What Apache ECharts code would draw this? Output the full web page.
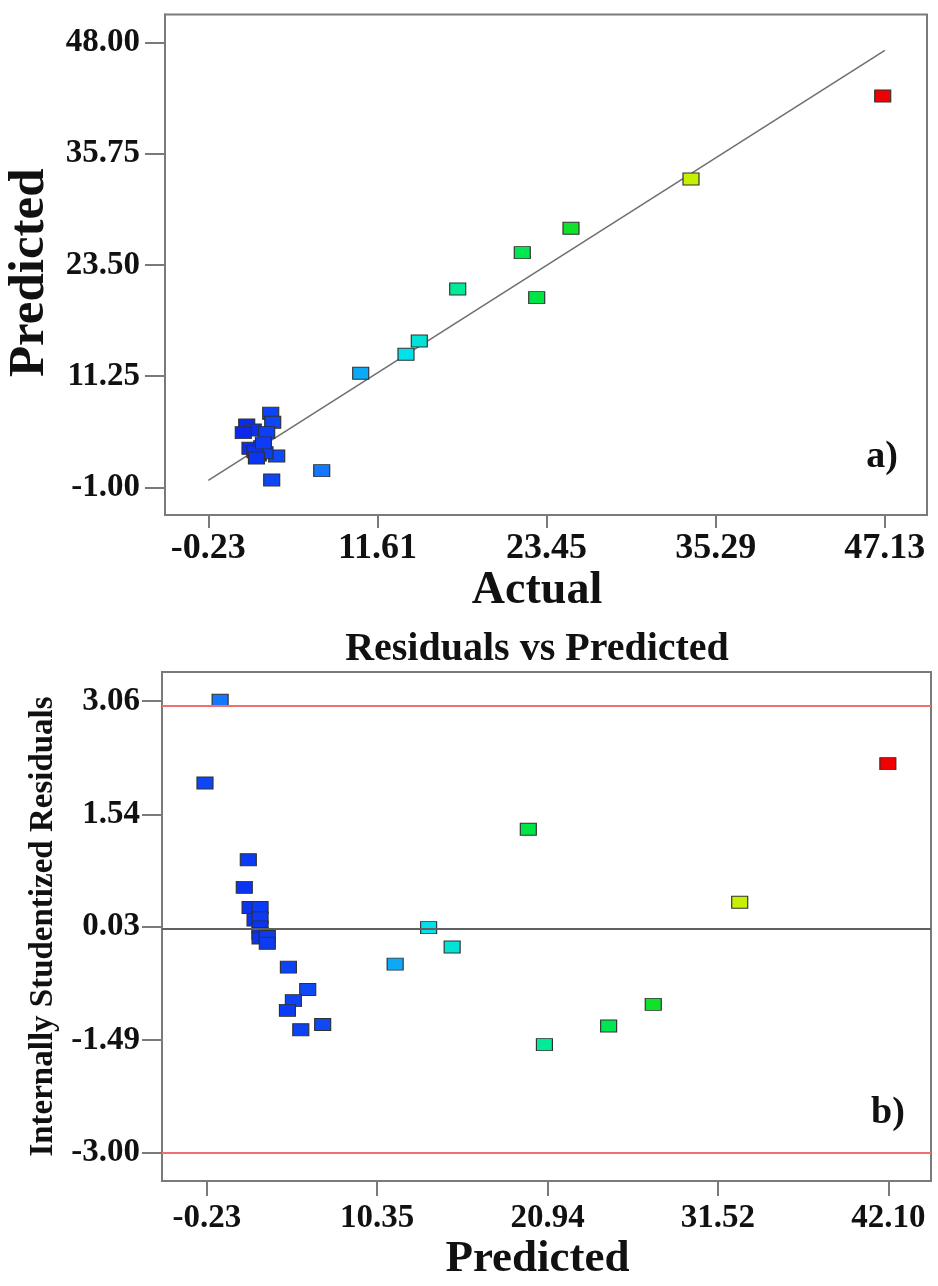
<!DOCTYPE html>
<html>
<head>
<meta charset="utf-8">
<script src="https://cdn.jsdelivr.net/npm/echarts@6/dist/echarts.min.js"></script>
<style>
html,body{margin:0;padding:0;background:#fff;}
#chart{width:938px;height:1286px;}
</style>
</head>
<body>
<div id="chart"></div>
<script>
// ---- Data ----
const actualTicks = [-0.23, 11.61, 23.45, 35.29, 47.13];
const predictedTicksA = [-1.00, 11.25, 23.50, 35.75, 48.00];
const predictedTicksB = [-0.23, 10.35, 20.94, 31.52, 42.10];
const residualTicks = [-3.00, -1.49, 0.03, 1.54, 3.06];

// Panel a: Actual vs Predicted
const actualA = [46.98, 33.56, 25.16, 21.75, 22.76, 17.23, 14.54, 13.61, 10.44, 7.71, 4.21, 4.14, 4.28, 2.46, 2.92, 2.22, 3.86, 2.69, 3.51, 3.27, 4.56, 3.74, 3.04, 3.14, 3.63];
const predictedA = [42.11, 32.97, 27.54, 24.86, 19.90, 20.86, 15.13, 13.67, 11.58, 0.85, -0.17, 7.17, 6.18, 5.88, 5.33, 5.04, 5.04, 3.32, 3.49, 2.58, 2.47, 2.83, 2.94, 2.25, 3.91];

// Panel b: Residuals vs Predicted (actualB used for colour)
const predictedB = [0.60, -0.34, 2.35, 2.10, 2.46, 3.08, 2.77, 3.08, 3.08, 3.08, 3.08, 3.53, 3.53, 4.84, 6.04, 5.15, 4.78, 5.61, 6.97, 19.74, 32.87, 13.55, 15.01, 11.47, 27.50, 24.73, 20.74, 42.07];
const residualB = [3.07, 1.96, 0.93, 0.56, 0.29, 0.29, 0.12, 0.15, 0.03, -0.06, -0.12, -0.10, -0.19, -0.51, -0.81, -0.96, -1.09, -1.35, -1.28, 1.34, 0.36, 0.02, -0.24, -0.47, -1.01, -1.30, -1.55, 2.22];
const actualB = [7.71, 4.21, 3.5, 3.0, 3.0, 3.5, 3.0, 3.5, 3.0, 3.0, 3.0, 3.5, 3.5, 4.0, 4.5, 4.0, 3.5, 4.0, 4.5, 22.76, 33.56, 13.61, 14.54, 10.44, 25.16, 21.75, 17.23, 46.98];
const residualLimits = [3.00, -3.00];
const residualZero = 0;

// ---- Build ----
const FONT = "'Liberation Serif', 'Times New Roman', serif";
const frameColor = '#7a7a7a';
const rainbow = ['#0a28f0', '#1478ff', '#00e0f0', '#00f070', '#00e030', '#90f000', '#e8f000', '#f87000', '#f00000'];

const dataA = actualA.map((v, i) => [v, predictedA[i]]);
const dataB = predictedB.map((v, i) => [v, residualB[i], actualB[i]]);
const fmt = v => Number(v).toFixed(2);

function axisCommon(ticks, tickLen, labelSize, margin) {
  return {
    axisLine: { show: true, onZero: false, lineStyle: { color: frameColor, width: 2 } },
    axisTick: { show: true, customValues: ticks, length: tickLen, lineStyle: { color: frameColor, width: 2 } },
    axisLabel: { customValues: ticks, formatter: fmt, margin: margin,
      fontFamily: FONT, fontWeight: 'bold', fontSize: labelSize, color: '#111' },
    splitLine: { show: false }
  };
}

const chart = echarts.init(document.getElementById('chart'), null, { renderer: 'canvas' });
chart.setOption({
  animation: false,
  backgroundColor: '#fff',
  title: [
    { text: 'Residuals vs Predicted', left: 532, top: 625, textAlign: 'center',
      textStyle: { fontFamily: FONT, fontWeight: 'bold', fontSize: 40, color: '#111' } },
    { text: 'a)', left: 877, top: 433, textAlign: 'center',
      textStyle: { fontFamily: FONT, fontWeight: 'bold', fontSize: 38, color: '#111' } },
    { text: 'b)', left: 883, top: 1089, textAlign: 'center',
      textStyle: { fontFamily: FONT, fontWeight: 'bold', fontSize: 38, color: '#111' } }
  ],
  grid: [
    { left: 165, top: 14.5, width: 762, height: 500.5, show: true, borderColor: frameColor, borderWidth: 2,
      containLabel: false, outerBoundsMode: 'none' },
    { left: 162, top: 672, width: 769, height: 509, show: true, borderColor: frameColor, borderWidth: 2,
      containLabel: false, outerBoundsMode: 'none' }
  ],
  xAxis: [
    Object.assign({ type: 'value', gridIndex: 0, min: -3.26, max: 50.08,
      name: 'Actual', nameLocation: 'middle', nameGap: 44,
      nameTextStyle: { fontFamily: FONT, fontWeight: 'bold', fontSize: 46, color: '#111', padding: [0, 18, 0, 0] } },
      axisCommon(actualTicks, 13, 36, 16)),
    Object.assign({ type: 'value', gridIndex: 1, min: -3.01, max: 44.75,
      name: 'Predicted', nameLocation: 'middle', nameGap: 56,
      nameTextStyle: { fontFamily: FONT, fontWeight: 'bold', fontSize: 45, color: '#111', padding: [0, 18, 0, 0] } },
      axisCommon(predictedTicksB, 15, 33, 21))
  ],
  yAxis: [
    Object.assign({ type: 'value', gridIndex: 0, min: -4.03, max: 51.08,
      name: 'Predicted', nameLocation: 'middle', nameGap: 106,
      nameTextStyle: { fontFamily: FONT, fontWeight: 'bold', fontSize: 51, color: '#111', padding: [0, 16, 0, 0] } },
      axisCommon(predictedTicksA, 20, 33, 25)),
    Object.assign({ type: 'value', gridIndex: 1, min: -3.38, max: 3.449,
      name: 'Internally Studentized Residuals', nameLocation: 'middle', nameGap: 98,
      nameTextStyle: { fontFamily: FONT, fontWeight: 'bold', fontSize: 33, color: '#111' } },
      axisCommon(residualTicks, 20, 33, 22))
  ],
  visualMap: [
    { show: false, type: 'continuous', seriesIndex: 1, dimension: 0, min: 2.2, max: 47, inRange: { color: rainbow } },
    { show: false, type: 'continuous', seriesIndex: 2, dimension: 2, min: 2.2, max: 47, inRange: { color: rainbow } }
  ],
  series: [
    { type: 'line', xAxisIndex: 0, yAxisIndex: 0, silent: true, showSymbol: false, symbol: 'none',
      data: [[actualTicks[0], actualTicks[0]], [actualTicks[actualTicks.length - 1], actualTicks[actualTicks.length - 1]]],
      lineStyle: { color: '#6e6e6e', width: 1.5 }, z: 2 },
    { type: 'scatter', xAxisIndex: 0, yAxisIndex: 0, symbol: 'rect', symbolSize: [16, 12],
      data: dataA, itemStyle: { borderColor: '#303030', borderWidth: 1, opacity: 1 }, z: 3 },
    { type: 'scatter', xAxisIndex: 1, yAxisIndex: 1, symbol: 'rect', symbolSize: [16, 12],
      data: dataB, itemStyle: { borderColor: '#303030', borderWidth: 1, opacity: 1 }, z: 3,
      markLine: { silent: true, symbol: 'none', label: { show: false }, animation: false,
        data: [
          { yAxis: residualLimits[0], lineStyle: { color: '#f07070', width: 2, type: 'solid' } },
          { yAxis: residualLimits[1], lineStyle: { color: '#f07070', width: 2, type: 'solid' } },
          { yAxis: residualZero, lineStyle: { color: '#606060', width: 2, type: 'solid' } }
        ] } }
  ]
});
</script>
</body>
</html>
